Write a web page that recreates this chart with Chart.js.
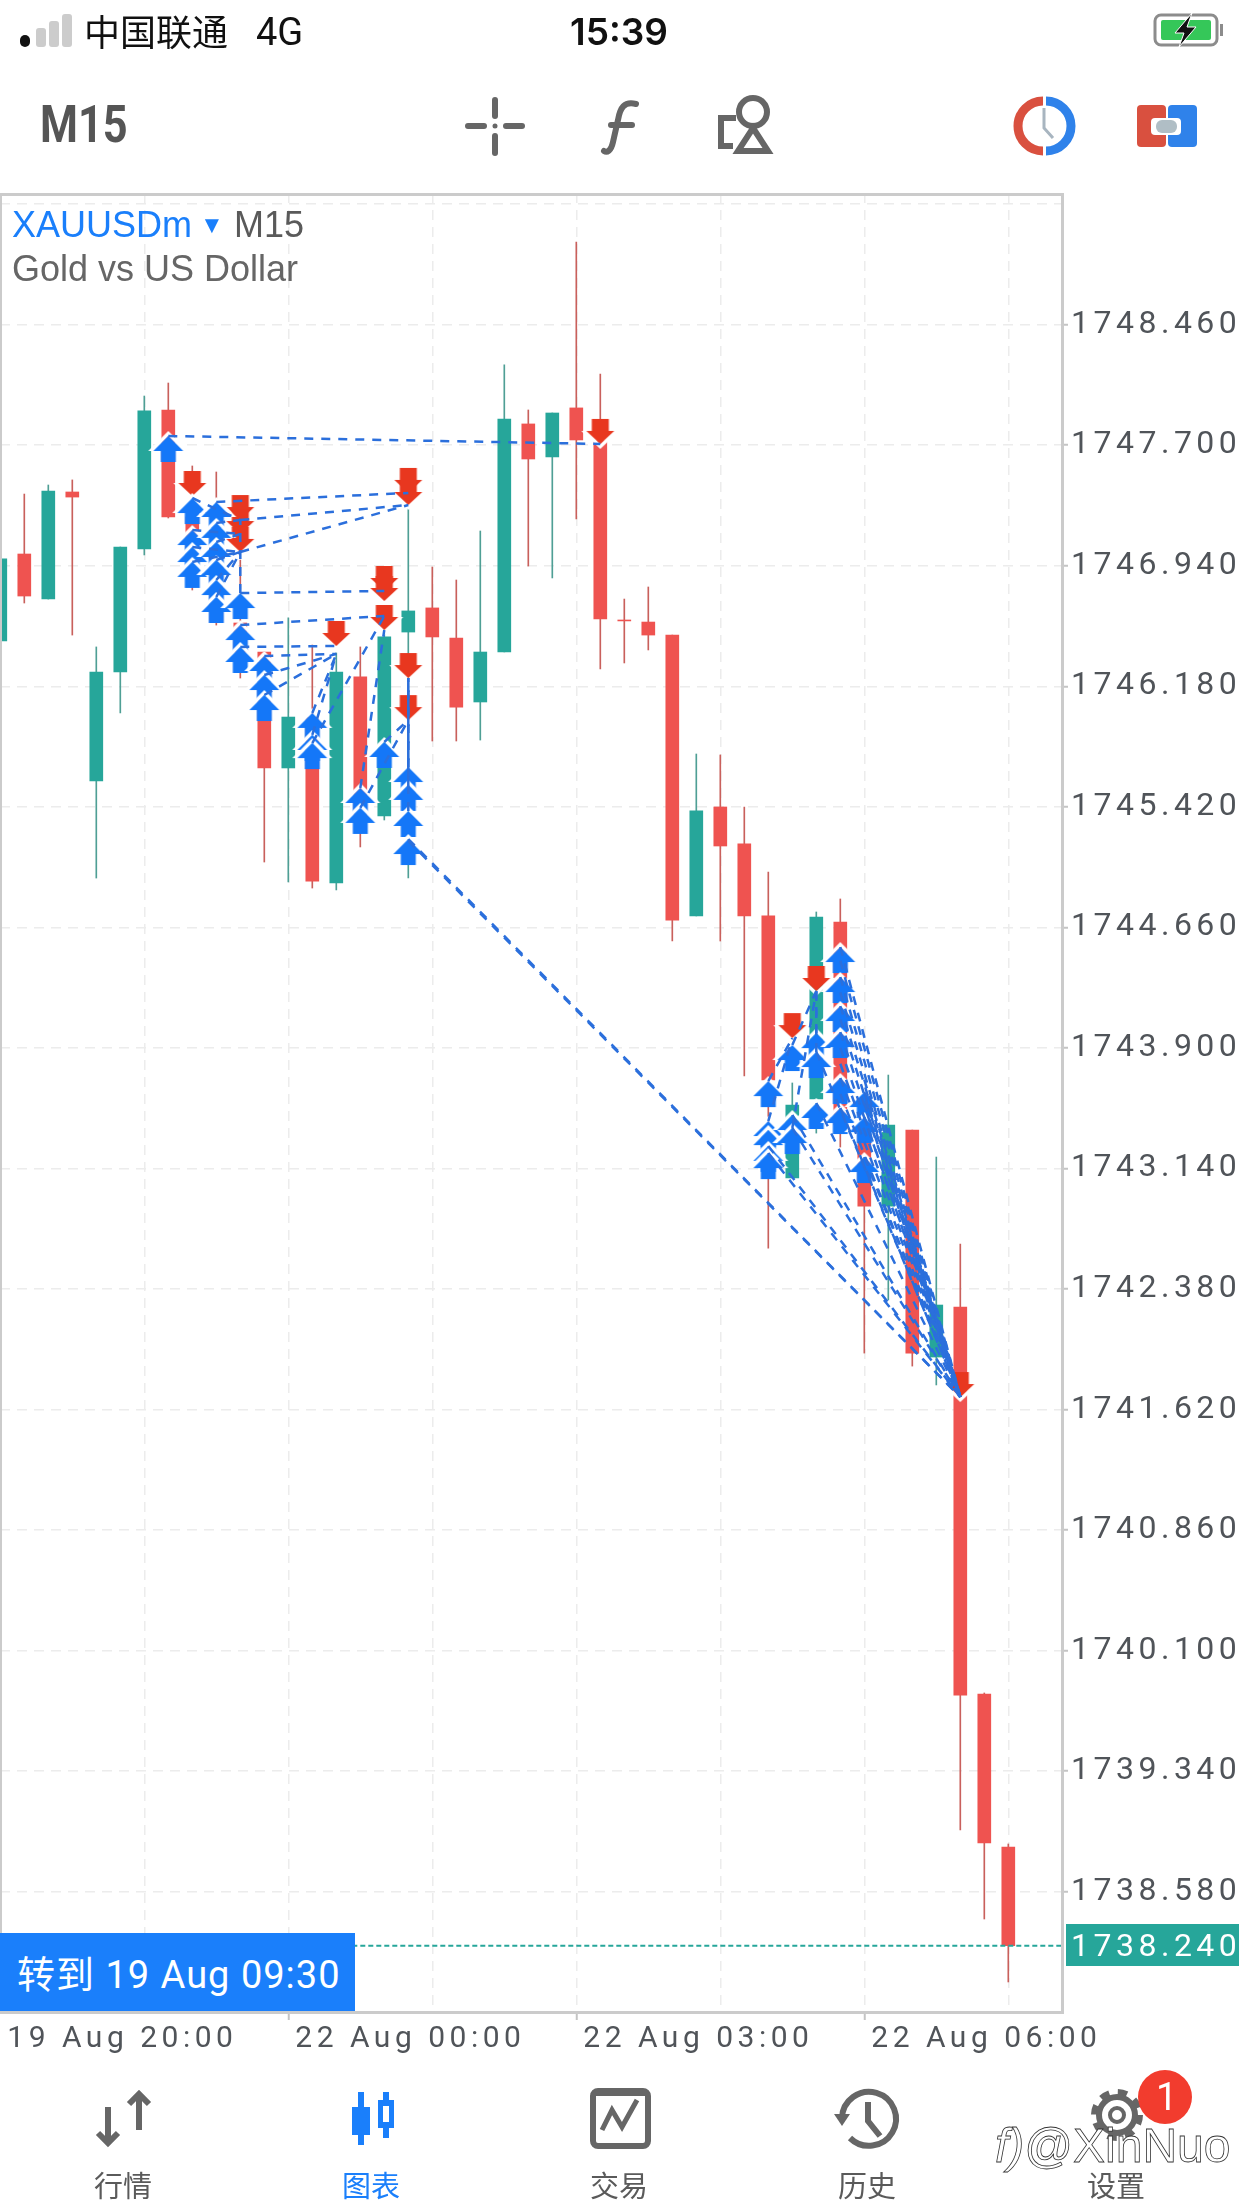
<!DOCTYPE html>
<html><head><meta charset="utf-8">
<script src="https://cdn.jsdelivr.net/npm/chart.js@4"></script>
<style>
html,body{margin:0;padding:0;background:#fff;width:1242px;height:2208px;overflow:hidden}
#wrap{position:relative;width:1242px;height:2208px}
canvas{position:absolute;left:0;top:0}
.t{position:absolute;white-space:nowrap;line-height:1;font-family:"Liberation Sans",sans-serif}
.cjk{font-family:"Noto Sans CJK SC",sans-serif}
.nav{font-family:"Noto Sans CJK SC",sans-serif;font-size:29px;color:#5a5a5a;top:2170px}
svg{position:absolute;left:0;top:0}
</style></head><body><div id="wrap">
<canvas id="c" width="1242" height="2208"></canvas>
<div style="position:absolute;left:0;top:193px;border:solid #cbcbcb;border-width:3px 3px 3px 2px;box-sizing:border-box;width:1064px;height:1821px"></div>
<div class="t" style="left:0;top:1933px;width:355px;height:78px;background:#1a7ffb;color:#fff;font-family:Roboto;font-size:38px;letter-spacing:1px;line-height:78px;text-indent:17px"><span class="cjk">转到</span> 19 Aug 09:30</div>
<div class="t" style="left:1066px;top:1924px;width:173px;height:42px;background:#26a69a;color:#fff;font-family:Roboto;font-size:32px;letter-spacing:4.5px;line-height:42px;text-indent:5px">1738.240</div>
<div class="t cjk" style="left:84px;top:12px;font-size:36px;color:#111">中国联通</div>
<div class="t" style="left:256px;top:13px;font-family:Roboto;font-size:38px;color:#111">4G</div>
<div class="t" style="left:570px;top:13px;font-family:Inter;font-weight:600;font-size:37px;color:#111">15:39</div>
<div class="t" style="left:40px;top:99px;font-family:Roboto;font-weight:700;font-size:51px;color:#555;transform:scaleX(.85);transform-origin:left">M15</div>
<div class="t" style="left:12px;top:207px;font-size:36px;color:#1a7ffb">XAUUSDm</div>
<div class="t" style="left:200px;top:213px;font-size:24px;color:#1a7ffb">▼</div>
<div class="t" style="left:234px;top:207px;font-size:36px;color:#5a5a5a">M15</div>
<div class="t" style="left:12px;top:251px;font-size:36px;color:#666">Gold vs US Dollar</div>
<div class="t nav" style="left:94px">行情</div>
<div class="t nav" style="left:342px;color:#1a7ffb">图表</div>
<div class="t nav" style="left:590px">交易</div>
<div class="t nav" style="left:838px">历史</div>
<div class="t nav" style="left:1087px">设置</div>
<svg width="1242" height="2208" viewBox="0 0 1242 2208" fill="none">
<rect x="20" y="35" width="10" height="12" rx="5" fill="#111"/>
<rect x="36" y="28" width="10" height="19" rx="3" fill="#ccc"/><rect x="49" y="21" width="10" height="26" rx="3" fill="#ccc"/><rect x="62" y="14" width="10" height="33" rx="3" fill="#ccc"/>
<rect x="1155" y="15" width="62" height="30" rx="6" stroke="#8c8c8c" stroke-width="3"/><rect x="1161" y="20" width="50" height="20" rx="2" fill="#35c759"/><rect x="1220" y="24" width="3" height="12" fill="#8c8c8c"/>
<polygon points="1192,13 1175,33 1184,33 1179,47 1196,27 1187,27" fill="#111" stroke="#fff" stroke-width="1"/>
<g stroke="#666" stroke-width="6" stroke-linecap="round">
<line x1="468" y1="126" x2="484" y2="126"/><line x1="506" y1="126" x2="522" y2="126"/><line x1="495" y1="100" x2="495" y2="116"/><line x1="495" y1="136" x2="495" y2="153"/>
<path d="M636,104 C624,101 620,108 618,120 L613,142 C611,151 607,153 604,151"/><line x1="611" y1="125" x2="632" y2="125"/></g>
<circle cx="495" cy="126" r="2.5" fill="#666"/>
<circle cx="753" cy="112" r="14" stroke="#666" stroke-width="6"/><polygon points="753,128 768,151 738,151" stroke="#666" stroke-width="6"/><path d="M736,118 L721,118 L721,146 L733,146" stroke="#666" stroke-width="6"/>
<path d="M1043,101 A25,25 0 0 0 1043,151" stroke="#d9503f" stroke-width="9"/><path d="M1046,101 A25,25 0 0 1 1046,151" stroke="#2f82ea" stroke-width="9"/><polyline points="1044,108 1044,128 1053,138" stroke="#a8b5c0" stroke-width="3"/>
<rect x="1137" y="105" width="29" height="42" rx="4" fill="#d9503f"/><rect x="1168" y="105" width="29" height="42" rx="4" fill="#2f82ea"/><rect x="1151" y="118" width="30" height="17" rx="4" fill="#fff"/><rect x="1156" y="120" width="21" height="13" rx="6" fill="#b0bec5"/>
<g stroke="#666" stroke-width="6"><path d="M108,2107 V2143 M98,2133 L108,2143 L118,2133"/><path d="M139,2130 V2094 M129,2104 L139,2094 L149,2104"/></g>
<g fill="#1a7ffb"><rect x="358" y="2092" width="6" height="53"/><rect x="352" y="2107" width="18" height="28"/><rect x="383" y="2092" width="6" height="46"/><rect x="378" y="2100" width="16" height="28"/></g><rect x="383" y="2106" width="6" height="16" fill="#fff"/>
<rect x="593" y="2091" width="55" height="55" rx="5" stroke="#666" stroke-width="6"/><line x1="593" y1="2093" x2="648" y2="2093" stroke="#666" stroke-width="6"/><polyline points="602,2130 612,2110 622,2127 637,2100" stroke="#666" stroke-width="5"/>
<path d="M842,2118 A27,27 0 1 1 850,2138" stroke="#666" stroke-width="6"/><polygon points="834,2114 850,2114 842,2126" fill="#666"/><polyline points="868,2102 868,2121 880,2136" stroke="#666" stroke-width="6"/>
<circle cx="1117" cy="2115" r="22" stroke="#666" stroke-width="8" stroke-dasharray="9 8.3"/><circle cx="1117" cy="2115" r="18" stroke="#666" stroke-width="6"/><circle cx="1117" cy="2115" r="7" stroke="#666" stroke-width="4"/>
<circle cx="1165" cy="2097" r="27" fill="#f23c2e"/>
</svg>
<div class="t" style="left:1156px;top:2078px;font-family:Roboto;font-size:38px;color:#fff">1</div>
<div class="t" style="left:995px;top:2122px;font-size:48px;color:#fff;-webkit-text-stroke:.8px #333;font-weight:400"><i>f)</i>@XinNuo</div>
</div>
<script>
// 15-minute candles, oldest first
const opens=[1746.466,1747.014,1746.730,1747.405,1745.583,1746.270,1747.046,1747.922,1747.247,1746.976,1746.579,1746.396,1745.665,1745.986,1744.940,1746.239,1745.362,1746.522,1746.674,1746.484,1746.081,1746.396,1747.834,1747.626,1747.935,1747.727,1746.598,1746.585,1746.503,1744.732,1745.419,1745.186,1744.732,1743.080,1743.578,1744.694,1743.382,1742.903,1743.382,1741.951,1742.266,1739.826,1738.862];
const closes=[1746.983,1746.749,1747.411,1747.373,1746.270,1747.058,1747.916,1747.247,1746.976,1746.585,1746.396,1745.665,1745.986,1744.952,1746.270,1745.368,1746.491,1746.655,1746.491,1746.049,1746.396,1747.865,1747.613,1747.903,1747.733,1746.604,1746.592,1746.503,1744.706,1745.394,1745.173,1744.732,1743.698,1743.540,1744.725,1743.414,1742.903,1743.414,1741.976,1742.279,1739.820,1738.887,1738.240];
const highs=[1746.983,1747.392,1747.449,1747.481,1746.428,1747.058,1748.010,1748.092,1747.569,1747.531,1746.976,1746.396,1746.611,1746.440,1746.390,1746.428,1746.535,1747.304,1746.932,1746.850,1747.159,1748.206,1747.922,1747.903,1748.981,1748.149,1746.730,1746.806,1746.503,1745.753,1745.747,1745.419,1745.009,1743.679,1744.757,1744.839,1743.414,1743.729,1743.382,1743.212,1742.664,1739.833,1738.881];
const lows=[1746.466,1746.705,1746.730,1746.503,1744.971,1746.012,1747.008,1747.241,1746.787,1746.566,1746.232,1745.072,1744.946,1744.908,1744.896,1745.167,1745.337,1744.971,1745.835,1745.835,1745.841,1746.396,1746.938,1746.863,1747.235,1746.289,1746.327,1746.409,1744.574,1744.732,1744.574,1743.723,1742.638,1743.080,1743.363,1743.275,1741.976,1742.311,1741.894,1741.775,1738.969,1738.408,1738.011];
// trade markers: candle index and price
const buyIndex=[7,8,8,8,8,9,9,9,9,9,9,10,10,10,11,11,11,13,13,13,15,15,16,17,17,17,17,32,32,32,32,32,33,33,33,34,34,34,35,35,35,35,35,35,36,36,36];
const buyPrice=[1747.758,1747.367,1747.165,1747.058,1746.964,1747.342,1747.210,1747.090,1746.976,1746.850,1746.743,1746.768,1746.566,1746.428,1746.371,1746.251,1746.125,1746.012,1745.873,1745.822,1745.539,1745.413,1745.829,1745.671,1745.558,1745.394,1745.217,1743.691,1743.439,1743.382,1743.282,1743.237,1743.918,1743.477,1743.395,1743.994,1743.874,1743.553,1744.536,1744.347,1744.164,1744.000,1743.710,1743.521,1743.622,1743.464,1743.212];
const sellIndex=[8,10,10,10,14,16,16,16,17,17,17,17,25,33,34,40];
const sellPrice=[1747.380,1747.228,1747.140,1747.027,1746.434,1746.781,1746.718,1746.535,1747.399,1747.323,1746.232,1745.967,1747.708,1743.962,1744.259,1741.699];
// closed trades: open index, open price, close index, close price
const trades=[
[7,1747.758,25,1747.708],[9,1747.342,17,1747.399],[10,1747.228,17,1747.323],[10,1747.027,17,1747.323],
[10,1746.768,16,1746.781],[10,1746.566,16,1746.623],[10,1746.428,14,1746.434],[11,1746.371,14,1746.384],
[11,1746.251,14,1746.384],[11,1746.125,14,1746.384],[13,1746.012,14,1746.384],[13,1745.873,14,1746.384],
[13,1745.822,16,1746.623],[15,1745.539,16,1746.535],[15,1745.413,17,1745.967],[16,1745.829,17,1745.967],
[17,1745.671,17,1746.232],[17,1745.558,17,1746.232],[17,1745.394,17,1746.232],
[8,1747.367,10,1747.228],[8,1747.165,10,1747.140],[8,1747.058,10,1747.027],[8,1746.964,10,1747.027],
[9,1747.210,10,1747.228],[9,1747.090,10,1747.140],[9,1746.976,10,1747.027],[9,1746.850,10,1747.027],[9,1746.743,10,1747.027],
[10,1746.768,10,1747.228],[17,1745.217,40,1741.699],[17,1745.205,40,1741.699],
[32,1743.691,33,1743.962],[32,1743.439,33,1743.962],[33,1743.918,34,1744.259],[33,1743.395,34,1744.259],[34,1743.994,34,1744.259],[34,1743.874,34,1744.259],
[32,1743.282,40,1741.699],[32,1743.237,40,1741.699],[33,1743.477,40,1741.699],[33,1743.395,40,1741.699],[34,1743.553,40,1741.699],[34,1743.874,40,1741.699],
[35,1744.536,40,1741.699],[35,1744.347,40,1741.699],[35,1744.164,40,1741.699],[35,1744.000,40,1741.699],[35,1743.710,40,1741.699],[35,1743.521,40,1741.699],
[36,1743.622,40,1741.699],[36,1743.464,40,1741.699],[36,1743.212,40,1741.699],
[35,1744.450,40,1741.699],[35,1744.250,40,1741.699],[35,1744.080,40,1741.699],[35,1743.900,40,1741.699],[35,1743.800,40,1741.699],[36,1743.700,40,1741.699],[36,1743.550,40,1741.699],[35,1743.610,40,1741.699]];
const yTickValues=[1749.22,1748.46,1747.70,1746.94,1746.18,1745.42,1744.66,1743.90,1743.14,1742.38,1741.62,1740.86,1740.10,1739.34,1738.58];
const yTickLabels=['','1748.460','1747.700','1746.940','1746.180','1745.420','1744.660','1743.900','1743.140','1742.380','1741.620','1740.860','1740.100','1739.340','1738.580'];
const xTickValues=[0,6,12,18,24,30,36,42];
const xTickLabels=['19 Aug 20:00','','22 Aug 00:00','','22 Aug 03:00','','22 Aug 06:00',''];
const lastPrice=1738.24;

const RED='#ef5350',GREEN='#26a69a',RED_WICK='#c9605c',GREEN_WICK='#4f9f95',BLUE='#1477f8',DOWN='#e8371f',LINE='#2b6fdc';
function arrow(up){
  const c=document.createElement('canvas');c.width=44;c.height=70;const g=c.getContext('2d');
  g.translate(22,35);if(!up)g.scale(1,-1);
  const W=up?15:14,H=up?15:13,S=up?7.5:8.5,L=up?26:25;
  g.beginPath();g.moveTo(0,-5);g.lineTo(W+5,H);g.lineTo(W,H);g.lineTo(0,0);g.lineTo(-W,H);g.lineTo(-W-5,H);g.closePath();g.fillStyle='#fff';g.fill();
  g.beginPath();g.moveTo(0,0);g.lineTo(W,H);g.lineTo(S,H);g.lineTo(S,L);g.lineTo(-S,L);g.lineTo(-S,H);g.lineTo(-W,H);g.closePath();g.fillStyle=up?BLUE:DOWN;g.fill();
  return c;
}
const idx=opens.map((_,i)=>i);
const datasets=[
 {type:'bar',order:20,barThickness:1,grouped:false,data:idx.map(i=>({x:i,y:[lows[i],highs[i]]})),backgroundColor:idx.map(i=>closes[i]>=opens[i]?GREEN_WICK:RED_WICK)},
 {type:'bar',order:19,barThickness:13,grouped:false,data:idx.map(i=>({x:i,y:[Math.min(opens[i],closes[i]),Math.max(opens[i],closes[i])]})),backgroundColor:idx.map(i=>closes[i]>=opens[i]?GREEN:RED)},
 {type:'line',order:18,data:[{x:0,y:lastPrice},{x:45,y:lastPrice}],borderColor:GREEN,borderWidth:2,borderDash:[5,3],pointRadius:0,tension:0},
 {type:'scatter',order:5,data:sellIndex.map((x,i)=>({x,y:sellPrice[i]})),pointStyle:arrow(false),pointRadius:10},
 {type:'scatter',order:4,data:buyIndex.map((x,i)=>({x,y:buyPrice[i]})),pointStyle:arrow(true),pointRadius:10},
 ...trades.map(t=>({type:'line',order:2,data:[{x:t[0],y:t[1]},{x:t[2],y:t[3]}],borderColor:LINE,borderWidth:2.5,borderDash:[9,8],pointRadius:0,tension:0}))
];
const gridCol='#ececec';
new Chart(document.getElementById('c'),{
 type:'bar',
 data:{datasets},
 plugins:[{id:'spacing',beforeDraw(ch){ch.ctx.letterSpacing='4.5px';}}],
 options:{
  responsive:false,animation:false,devicePixelRatio:1,
  layout:{autoPadding:false,padding:{top:193,left:0,right:0,bottom:0}},
  plugins:{legend:{display:false},tooltip:{enabled:false}},
  scales:{
   x:{type:'linear',position:'bottom',min:-0.0125,max:44.2375,offset:false,
    afterBuildTicks(s){s.ticks=xTickValues.map(v=>({value:v}));},
    afterFit(s){s.height=197;s.paddingLeft=0;s.paddingRight=0;},
    grid:{offset:false,color:gridCol,lineWidth:1.5,tickLength:9,tickBorderDash:[],tickWidth:2,tickColor:c=>c.tick&&c.tick.label&&c.tick.value>0?'#c4c4c4':'rgba(0,0,0,0)'},
    border:{display:false,dash:[10,7]},
    ticks:{callback:(v)=>xTickLabels[xTickValues.indexOf(v)]||'',align:'start',labelOffset:7,padding:1,maxRotation:0,minRotation:0,autoSkip:false,font:{family:'Roboto',size:30},color:'#505459'}},
   y:{type:'linear',position:'right',min:1737.828,max:1749.290,
    afterBuildTicks(s){s.ticks=yTickValues.map(v=>({value:v}));},
    afterFit(s){s.width=180;s.paddingTop=0;s.paddingBottom=0;},
    grid:{color:gridCol,lineWidth:1.5,tickLength:6,tickBorderDash:[],tickWidth:2,tickColor:c=>c.tick&&c.tick.label?'#c4c4c4':'rgba(0,0,0,0)'},
    border:{display:false,dash:[10,7]},
    ticks:{callback:(v)=>yTickLabels[yTickValues.indexOf(v)]||'',padding:3,autoSkip:false,font:{family:'Roboto',size:32},color:'#505459'}}
  }
 }
});
</script>
</body></html>
